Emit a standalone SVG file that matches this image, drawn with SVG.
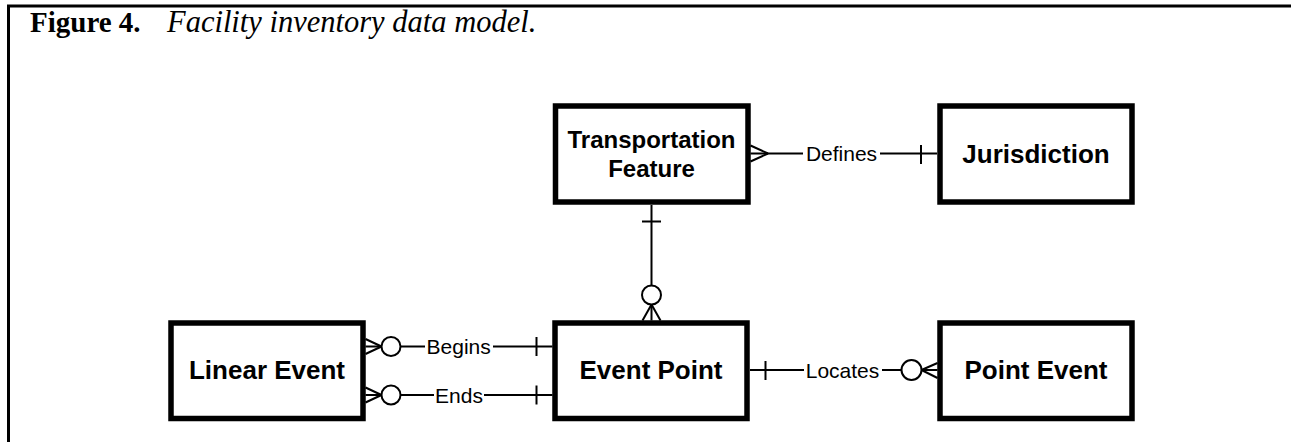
<svg xmlns="http://www.w3.org/2000/svg" width="1291" height="442" viewBox="0 0 1291 442">
<style>
.box{fill:#fff;stroke:#000;stroke-width:5.5}
.lbl{font-family:"Liberation Sans",Arial,sans-serif;font-weight:bold;font-size:26px;fill:#000;text-anchor:middle}
.lbl2{font-family:"Liberation Sans",Arial,sans-serif;font-weight:bold;font-size:24px;fill:#000;text-anchor:middle}
.rel{font-family:"Liberation Sans",Arial,sans-serif;font-size:21px;fill:#000;text-anchor:middle}
.ln{fill:none;stroke:#000;stroke-width:2}
.circ{fill:#fff;stroke:#000;stroke-width:2}
.frame{stroke:#000;stroke-width:3;fill:none}
</style>
<rect x="0" y="0" width="1291" height="442" fill="#fff"/>
<g id="frame">
<line class="frame" x1="7" y1="6" x2="1291" y2="6"/>
<line class="frame" x1="8.5" y1="5" x2="8.5" y2="442"/>
</g>
<g id="title">
<text x="30" y="32" font-family="'Liberation Serif','Times New Roman',serif" font-size="29" fill="#000"><tspan font-weight="bold">Figure 4.</tspan><tspan x="167" font-style="italic" font-size="30.5">Facility inventory data model.</tspan></text>
</g>
<g id="connectors">
<!-- Defines -->
<line class="ln" x1="750.5" y1="145.5" x2="768" y2="153.5"/>
<line class="ln" x1="750.5" y1="161.5" x2="768" y2="153.5"/>
<line class="ln" x1="750.5" y1="153.5" x2="803" y2="153.5"/>
<text class="rel" x="841.5" y="161">Defines</text>
<line class="ln" x1="880" y1="153.5" x2="937" y2="153.5"/>
<line class="ln" x1="921" y1="145" x2="921" y2="164"/>
<!-- TF to EP -->
<line class="ln" x1="651.5" y1="205" x2="651.5" y2="285.5"/>
<line class="ln" x1="642" y1="221.5" x2="661" y2="221.5"/>
<circle class="circ" cx="651.5" cy="295" r="9.5"/>
<line class="ln" x1="651.5" y1="304.5" x2="642.5" y2="320.5"/>
<line class="ln" x1="651.5" y1="304.5" x2="651.5" y2="320.5"/>
<line class="ln" x1="651.5" y1="304.5" x2="660.5" y2="320.5"/>
<!-- Begins -->
<line class="ln" x1="365.5" y1="339" x2="381.5" y2="346.5"/>
<line class="ln" x1="365.5" y1="354" x2="381.5" y2="346.5"/>
<line class="ln" x1="365.5" y1="346.5" x2="381.5" y2="346.5"/>
<circle class="circ" cx="391" cy="346.5" r="9.5"/>
<line class="ln" x1="400.5" y1="346.5" x2="425" y2="346.5"/>
<text class="rel" x="458.7" y="354">Begins</text>
<line class="ln" x1="493" y1="346.5" x2="552.5" y2="346.5"/>
<line class="ln" x1="536.5" y1="337" x2="536.5" y2="356"/>
<!-- Ends -->
<line class="ln" x1="365.5" y1="387.5" x2="381.5" y2="395"/>
<line class="ln" x1="365.5" y1="402.5" x2="381.5" y2="395"/>
<line class="ln" x1="365.5" y1="395" x2="381.5" y2="395"/>
<circle class="circ" cx="391" cy="395" r="9.5"/>
<line class="ln" x1="400.5" y1="395" x2="434" y2="395"/>
<text class="rel" x="459" y="402.5">Ends</text>
<line class="ln" x1="484" y1="395" x2="552.5" y2="395"/>
<line class="ln" x1="536.5" y1="385.5" x2="536.5" y2="404.5"/>
<!-- Locates -->
<line class="ln" x1="750" y1="370" x2="804" y2="370"/>
<line class="ln" x1="765.5" y1="361" x2="765.5" y2="380"/>
<text class="rel" x="842.5" y="377.5">Locates</text>
<line class="ln" x1="882" y1="370" x2="901.5" y2="370"/>
<circle class="circ" cx="911.5" cy="370" r="10"/>
<line class="ln" x1="921.5" y1="370" x2="937.5" y2="363"/>
<line class="ln" x1="921.5" y1="370" x2="937.5" y2="370"/>
<line class="ln" x1="921.5" y1="370" x2="937.5" y2="378"/>
</g>
<g id="transportation-feature">
<rect class="box" x="555.5" y="106" width="192.5" height="96"/>
<text class="lbl2" x="651.5" y="147.5">Transportation</text>
<text class="lbl2" x="651.5" y="176.5">Feature</text>
</g>
<g id="jurisdiction">
<rect class="box" x="940" y="106" width="192" height="96"/>
<text class="lbl" x="1036" y="163">Jurisdiction</text>
</g>
<g id="linear-event">
<rect class="box" x="171" y="323" width="192" height="95.5"/>
<text class="lbl" x="267" y="379">Linear Event</text>
</g>
<g id="event-point">
<rect class="box" x="555" y="323" width="192" height="95.5"/>
<text class="lbl" x="651" y="379">Event Point</text>
</g>
<g id="point-event">
<rect class="box" x="940" y="323" width="192" height="95.5"/>
<text class="lbl" x="1036" y="379">Point Event</text>
</g>
</svg>
